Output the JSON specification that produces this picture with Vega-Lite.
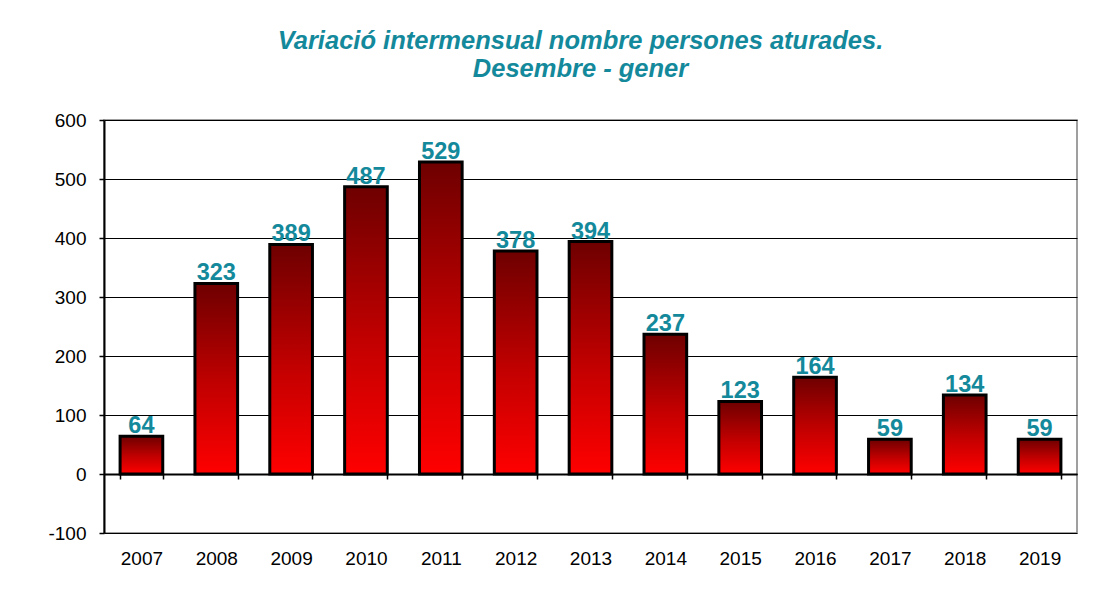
{
  "$schema": "https://vega.github.io/schema/vega-lite/v6.json",
  "autosize": "none",
  "width": 973,
  "height": 413,
  "padding": {"left": 104, "top": 120, "right": 18, "bottom": 61},
  "background": "white",
  "config": {
    "font": "Liberation Sans",
    "view": {"stroke": "#808080", "strokeWidth": 1.5}
  },
  "title": {
    "text": ["Variació intermensual nombre persones aturades.", "Desembre - gener"],
    "font": "Liberation Sans",
    "fontSize": 25.5,
    "fontWeight": "bold",
    "fontStyle": "italic",
    "color": "#13899b",
    "anchor": "middle",
    "dx": -10,
    "offset": 29,
    "lineHeight": 28
  },
  "data": {
    "values": [
      {"year": "2007", "value": 64},
      {"year": "2008", "value": 323},
      {"year": "2009", "value": 389},
      {"year": "2010", "value": 487},
      {"year": "2011", "value": 529},
      {"year": "2012", "value": 378},
      {"year": "2013", "value": 394},
      {"year": "2014", "value": 237},
      {"year": "2015", "value": 123},
      {"year": "2016", "value": 164},
      {"year": "2017", "value": 59},
      {"year": "2018", "value": 134},
      {"year": "2019", "value": 59}
    ]
  },
  "encoding": {
    "x": {
      "field": "year",
      "type": "ordinal",
      "scale": {"paddingInner": 0.43, "paddingOuter": 0.215},
      "axis": {
        "title": null,
        "labelAngle": 0,
        "labelFont": "Liberation Sans",
        "labelFontSize": 19,
        "labelColor": "#000000",
        "offset": -59,
        "domainColor": "#000000",
        "domainWidth": 2,
        "tickColor": "#000000",
        "tickWidth": 1.5,
        "tickSize": 5,
        "tickBand": "extent",
        "labelPadding": 70
      }
    },
    "y": {
      "field": "value",
      "type": "quantitative",
      "scale": {"domain": [-100, 600], "nice": false, "zero": false},
      "axis": {
        "title": null,
        "values": [-100, 0, 100, 200, 300, 400, 500, 600],
        "labelExpr": "'' + datum.value",
        "labelFont": "Liberation Sans",
        "labelFontSize": 19,
        "labelColor": "#000000",
        "labelPadding": 13,
        "domainColor": "#000000",
        "domainWidth": 2,
        "tickColor": "#000000",
        "tickWidth": 1.5,
        "tickSize": 5,
        "grid": true,
        "gridColor": "#000000",
        "gridWidth": 1
      }
    }
  },
  "layer": [
    {
      "mark": {
        "type": "bar",
        "stroke": "#000000",
        "strokeWidth": 3,
        "fill": {
          "gradient": "linear",
          "x1": 0, "y1": 0, "x2": 0, "y2": 1,
          "stops": [
            {"offset": 0, "color": "#6e0000"},
            {"offset": 0.55, "color": "#c40000"},
            {"offset": 1, "color": "#ff0000"}
          ]
        }
      }
    },
    {
      "mark": {
        "type": "text",
        "baseline": "alphabetic",
        "dy": -3,
        "font": "Liberation Sans",
        "fontSize": 23.5,
        "fontWeight": "bold",
        "color": "#13899b"
      },
      "encoding": {"text": {"field": "value", "type": "quantitative"}}
    }
  ]
}
